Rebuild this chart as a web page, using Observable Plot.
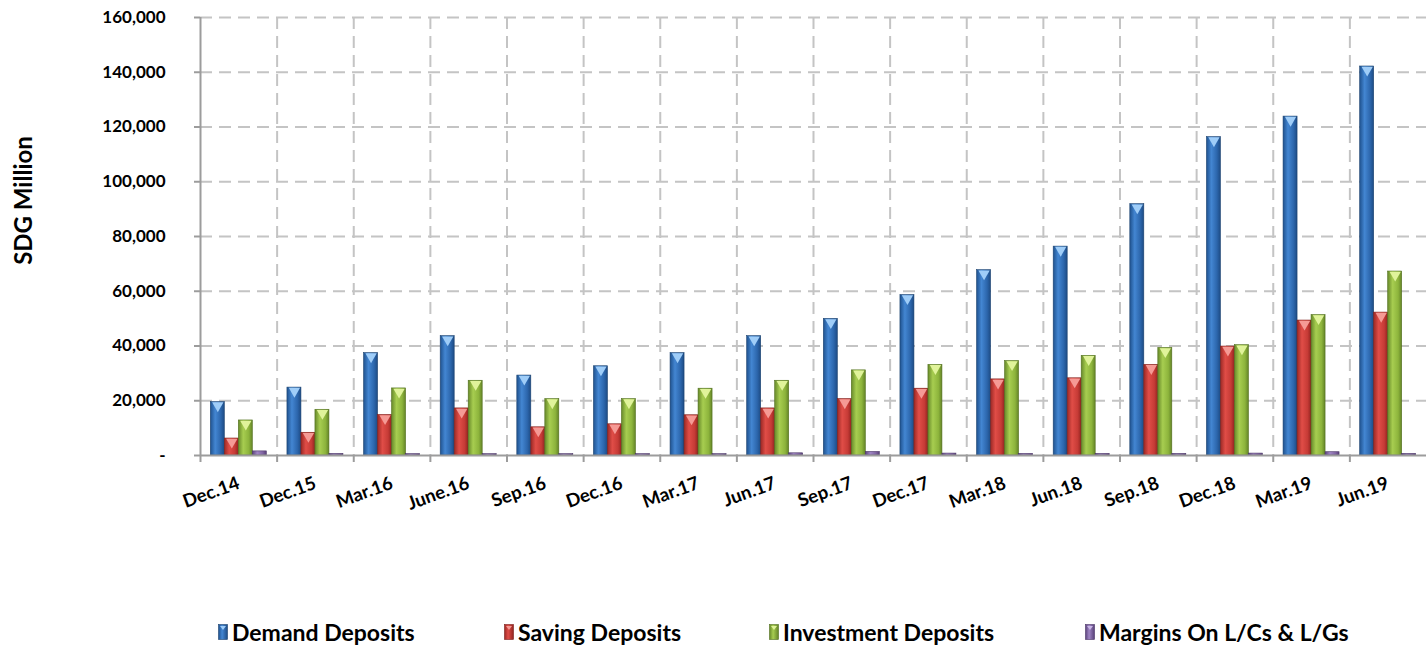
<!DOCTYPE html>
<html><head><meta charset="utf-8">
<script src="https://cdn.jsdelivr.net/npm/d3@7"></script>
<script src="https://cdn.jsdelivr.net/npm/@observablehq/plot@0.6"></script>
<style>
body{margin:0;background:#fff;}
#wrap{position:relative;width:1426px;height:651px;overflow:hidden;font-family:Lato,"Open Sans",sans-serif;}
#chart{position:absolute;left:0;top:0;}
#legend{position:absolute;top:617px;left:0;width:1426px;height:30px;}
.item{position:absolute;top:0;height:30px;display:flex;align-items:center;font-weight:700;font-size:23px;color:#000;white-space:nowrap;}
.item svg{margin-right:4px;}
</style></head><body><div id="wrap"><div id="chart"></div><div id="legend"></div></div>
<script>
const categories = ["Dec.14","Dec.15","Mar.16","June.16","Sep.16","Dec.16","Mar.17","Jun.17","Sep.17","Dec.17","Mar.18","Jun.18","Sep.18","Dec.18","Mar.19","Jun.19"];
const series = ["Demand Deposits","Saving Deposits","Investment Deposits","Margins On L/Cs & L/Gs"];
const demand     = [19500,24800,37400,43600,29200,32600,37400,43600,49900,58600,67700,76300,91800,116300,123800,142100];
const saving     = [6200,8300,14800,17200,10300,11400,14700,17200,20600,24400,27800,28200,33100,39800,49300,52200];
const investment = [12800,16700,24500,27300,20600,20600,24400,27300,31100,33100,34500,36400,39300,40300,51300,67200];
const margins    = [1500,600,500,500,500,500,500,800,1300,700,600,600,600,700,1200,600];
const yTicks = [0,20000,40000,60000,80000,100000,120000,140000,160000];
const yLabel = "SDG Million";

const values = [demand, saving, investment, margins];
const grads = [
  ["#1f528f","#4386d2","#2c66ac","#1d4b84"],
  ["#9c2925","#e04d47","#c63b36","#922420"],
  ["#67892a","#a7cd50","#8db43c","#648427"],
  ["#5b437c","#9f85c4","#8064a2","#584078"]
];
const tri = ["#9fcdf8","#f59a95","#e0f39a","#c9b6e6"];
const outline = ["#1b426f","#7e1f1b","#52701f","#4a3566"];

const W = 1426, H = 530, ML = 200, MR = 0, MT = 17, MB = 75;
const bw = (W - ML - MR) / categories.length;
const barW = 14;
const off = (bw - 4 * barW) / 2;
const grid = "#c4c4c4", axisC = "#9c9c9c";

const marks = [];
marks.push(Plot.ruleY(yTicks.slice(1), {stroke: grid, strokeWidth: 2, strokeDasharray: "12,7"}));
marks.push(Plot.ruleX(categories.slice(1), {x: d => d, dx: -bw / 2, stroke: grid, strokeWidth: 2, strokeDasharray: "12,7"}));
series.forEach((s, k) => {
  const rows = categories.map((c, i) => ({cat: c, value: values[k][i]}));
  marks.push(Plot.barY(rows, {
    x: "cat", y: "value", fill: `url(#g${k})`, stroke: outline[k], strokeWidth: 0.6,
    insetLeft: off + barW * k, insetRight: bw - off - barW * (k + 1)
  }));
  if (k < 3) {
    marks.push(Plot.dot(rows, {
      x: "cat", y: "value", symbol: "triangle", rotate: 180, r: 4.2,
      fill: tri[k], stroke: null, dx: off + barW * k + barW / 2 - bw / 2, dy: 3.5
    }));
  }
});
marks.push(Plot.ruleY([0], {stroke: axisC, strokeWidth: 2}));
marks.push(Plot.ruleX([categories[0]], {x: d => d, dx: -bw / 2, stroke: axisC, strokeWidth: 2}));
marks.push(Plot.axisX({tickSize: 7, dx: -bw / 2, tickFormat: () => "", stroke: axisC, strokeWidth: 2, label: null}));
marks.push(Plot.axisX({tickSize: 0, tickPadding: 27, tickRotate: -20, fontSize: 18.5, fontWeight: 700, fill: "#000", label: null}));
marks.push(Plot.axisY({ticks: yTicks, tickSize: 6, tickPadding: 29, stroke: axisC, strokeWidth: 2, fontSize: 17, fontWeight: 700, fill: "#000",
  tickFormat: d => d === 0 ? "-" : d3.format(",")(d), label: null}));
marks.push(Plot.text([yLabel], {frameAnchor: "left", textAnchor: "middle", dx: -176, dy: -36, rotate: -90, fontSize: 24, fontWeight: 700, fill: "#000"}));

const svg = Plot.plot({
  width: W, height: H, marginLeft: ML, marginRight: MR, marginTop: MT, marginBottom: MB,
  style: {fontFamily: "Lato, 'Open Sans', sans-serif", background: "#fff", overflow: "visible"},
  x: {domain: categories, padding: 0, round: false, axis: null},
  y: {domain: [0, 160000], axis: null},
  marks
});
const defs = d3.select(svg).insert("defs", ":first-child");
grads.forEach((g, k) => {
  const lg = defs.append("linearGradient").attr("id", `g${k}`).attr("x1", "0%").attr("x2", "100%").attr("y1", "0%").attr("y2", "0%");
  [[0, g[0]], [35, g[1]], [75, g[2]], [100, g[3]]].forEach(([o, c]) => lg.append("stop").attr("offset", o + "%").attr("stop-color", c));
});
document.getElementById("chart").appendChild(svg);

const legendLefts = [218, 504, 769, 1085];
const leg = document.getElementById("legend");
series.forEach((s, k) => {
  const it = document.createElement("div");
  it.className = "item";
  it.style.left = legendLefts[k] + "px";
  it.innerHTML = `<svg width="10" height="16" viewBox="0 0 10 16"><defs><linearGradient id="lg${k}" x1="0" x2="1" y1="0" y2="0">
    <stop offset="0" stop-color="${grads[k][0]}"/><stop offset="0.4" stop-color="${grads[k][1]}"/><stop offset="1" stop-color="${grads[k][3]}"/></linearGradient></defs>
    <rect x="0.5" y="0.5" width="9" height="15" fill="url(#lg${k})" stroke="${outline[k]}" stroke-width="0.6"/>
    <path d="M2,2 L8,2 L5,6 Z" fill="${tri[k]}"/></svg><span></span>`;
  it.querySelector("span").textContent = s;
  leg.appendChild(it);
});
</script></body></html>
